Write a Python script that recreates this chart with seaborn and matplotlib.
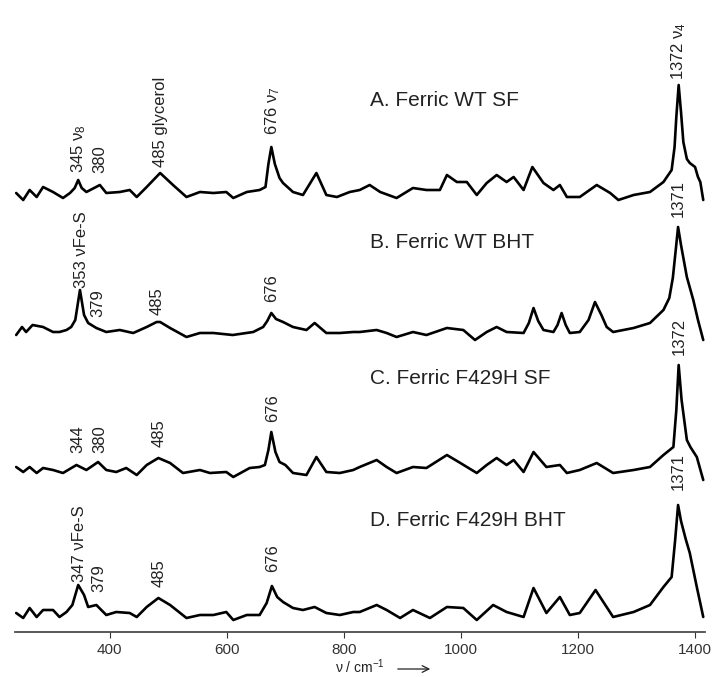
import matplotlib
matplotlib.use("Agg")
import matplotlib.pyplot as plt
import seaborn as sns
import pandas as pd
import numpy as np

# Raman shift (cm-1) and relative intensity
wn_a = [240, 252, 263, 275, 286, 303, 320, 332, 340, 346, 352, 360, 383, 394, 417, 434, 446, 463, 486, 508,
        531, 554, 577, 599, 611, 634, 656, 666, 671, 676, 682, 690, 696, 713, 730, 753, 770, 788, 810, 827,
        844, 862, 890, 918, 941, 964, 976, 993, 1010, 1027, 1044, 1061, 1078, 1090, 1107, 1122, 1141, 1158,
        1169, 1181, 1203, 1232, 1255, 1269, 1295, 1323, 1346, 1360, 1365, 1368, 1372, 1376, 1380, 1386,
        1391, 1400, 1405, 1409, 1414]
int_a = [-1, -8, 2, -5, 5, 0, -6, -1, 4, 12, 4, 0, 7, -1, 0, 2, -5, 5, 19, 7,
         -5, 0, -1, 0, -6, 0, 2, 5, 28, 45, 28, 14, 9, 0, -3, 19, -3, -5, 0, 2,
         7, 0, -6, 4, 2, 2, 17, 10, 10, -3, 9, 17, 10, 15, 2, 25, 9, 2,
         7, -5, -5, 7, -1, -8, -3, 0, 10, 22, 45, 75, 107, 80, 50, 33,
         29, 25, 15, 10, -8]

wn_b = [240, 250, 257, 268, 286, 303, 314, 326, 334, 341, 349, 356, 363, 377, 394, 417, 440, 463, 480, 486,
        503, 531, 554, 577, 610, 645, 662, 669, 676, 684, 696, 713, 736, 750, 770, 793, 816, 827, 856, 873,
        890, 918, 941, 976, 1004, 1024, 1044, 1061, 1078, 1107, 1116, 1124, 1132, 1141, 1158, 1165, 1172,
        1179, 1186, 1203, 1218, 1229, 1240, 1249, 1260, 1295, 1323, 1346, 1356, 1362, 1367, 1371, 1376,
        1386, 1397, 1405, 1414]
int_b = [0, 8, 3, 10, 8, 3, 3, 5, 8, 15, 45, 20, 12, 7, 3, 5, 2, 8, 13, 13,
         7, -2, 2, 2, 0, 3, 8, 14, 22, 16, 13, 8, 5, 12, 2, 2, 3, 3, 5, 2,
         -2, 3, 0, 7, 5, -5, 3, 8, 3, 2, 12, 27, 14, 5, 3, 10, 22,
         10, 2, 3, 15, 33, 20, 8, 3, 7, 12, 25, 37, 57, 85, 108, 90,
         58, 35, 15, -5]

wn_c = [240, 252, 263, 275, 286, 303, 320, 343, 360, 380, 394, 411, 428, 446, 463, 483, 503, 525, 554, 571,
        599, 611, 639, 656, 665, 671, 676, 683, 690, 700, 713, 736, 753, 770, 793, 816, 827, 856, 873, 890,
        918, 941, 976, 999, 1027, 1044, 1061, 1078, 1090, 1107, 1124, 1146, 1169, 1181, 1203, 1232, 1260,
        1295, 1323, 1346, 1363, 1368, 1372, 1377, 1386, 1392, 1403, 1414]
int_c = [3, -2, 3, -3, 2, 0, -3, 5, 0, 8, 0, -2, 2, -5, 5, 12, 7, -3, 0, -3,
         -2, -7, 2, 3, 5, 20, 38, 18, 8, 5, -3, -5, 13, -2, -3, 0, 3, 10, 3, -3,
         3, 2, 15, 7, -3, 5, 12, 5, 10, -2, 18, 3, 5, -3, 0, 7, -3,
         0, 3, 15, 23, 60, 105, 70, 30, 23, 13, -10]

wn_d = [240, 252, 263, 275, 286, 303, 314, 326, 336, 346, 356, 363, 377, 394, 411, 434, 446, 463, 483, 503,
        531, 554, 577, 599, 611, 634, 656, 668, 677, 686, 696, 713, 730, 750, 770, 793, 816, 827, 856, 873,
        896, 918, 947, 976, 1004, 1027, 1055, 1078, 1107, 1124, 1146, 1169, 1186, 1203, 1230, 1260, 1295,
        1323, 1346, 1360, 1366, 1371, 1376, 1384, 1391, 1403, 1414]
int_d = [0, -5, 5, -4, 3, 3, -4, 1, 8, 28, 18, 6, 8, -2, 1, 0, -4, 6, 15, 8,
         -5, -2, -2, 1, -7, -2, -2, 10, 27, 16, 11, 5, 3, 6, 0, -2, 1, 1, 8, 3,
         -5, 3, -5, 6, 5, -7, 8, 1, -4, 25, 0, 16, -2, 0, 23, -4, 1,
         8, 26, 36, 73, 108, 92, 74, 60, 26, -4]

titles = ["A. Ferric WT SF", "B. Ferric WT BHT", "C. Ferric F429H SF", "D. Ferric F429H BHT"]

# peak labels: (wavenumber, text, height of label bottom above trace baseline)
labels_a = [(346, "345 ν$_8$", 19), (383, "380", 19), (486, "485 glycerol", 25),
            (678, "676 ν$_7$", 57), (1372, "1372 ν$_4$", 112)]
labels_b = [(351, "353 νFe-S", 47), (379, "379", 18), (481, "485", 20),
            (676, "676", 33), (1372, "1371", 118)]
labels_c = [(345, "344", 17), (383, "380", 17), (484, "485", 23),
            (678, "676", 48), (1373, "1372", 115)]
labels_d = [(348, "347 νFe-S", 31), (382, "379", 21), (484, "485", 26),
            (678, "676", 41), (1372, "1371", 123)]

sns.set_theme(style="white")
plt.rcParams['font.family'] = ['Liberation Sans', 'DejaVu Sans']
plt.rcParams['mathtext.fontset'] = 'custom'
plt.rcParams['mathtext.rm'] = 'Liberation Sans'
plt.rcParams['mathtext.it'] = 'Liberation Sans'

fig = plt.figure(figsize=(7.17, 6.77), dpi=100)
ax = fig.add_axes([15 / 717, 45 / 677, 690 / 717, 632 / 677])

offsets = [440, 297, 162, 19]
spectra = [(wn_a, int_a, labels_a), (wn_b, int_b, labels_b),
           (wn_c, int_c, labels_c), (wn_d, int_d, labels_d)]

for (wn, inten, labs), off, title in zip(spectra, offsets, titles):
    df = pd.DataFrame({'wn': wn, 'y': np.array(inten) + off})
    sns.lineplot(data=df, x='wn', y='y', ax=ax, color='black', lw=1.9,
                 estimator=None, sort=False)
    for x, txt, h in labs:
        ax.text(x, off + h, txt, rotation=90, ha='center', va='bottom',
                fontsize=12, color='#222222')
    ax.text(845, off + 92, title, ha='left', va='center', fontsize=15, color='#222222')

ax.set_xlim(238, 1417)
ax.set_ylim(0, 632)
ax.set_xticks([400, 600, 800, 1000, 1200, 1400])
ax.set_yticks([])
ax.set_ylabel('')
ax.set_xlabel('ν / cm$^{-1}$', fontsize=10, color='#222222', labelpad=0)
for side in ['top', 'left', 'right']:
    ax.spines[side].set_visible(False)
ax.spines['bottom'].set_color('#444444')
ax.tick_params(axis='x', direction='out', length=4, width=0.8, pad=4,
               labelsize=11, colors='#333333', bottom=True)

# arrow after the axis label
ax.annotate('', xy=(433 / 717, 1 - 669 / 677), xytext=(395 / 717, 1 - 669 / 677),
            xycoords='figure fraction', textcoords='figure fraction',
            arrowprops=dict(arrowstyle='->', lw=0.9, color='#222222'))

plt.savefig('out.png', dpi=100)
